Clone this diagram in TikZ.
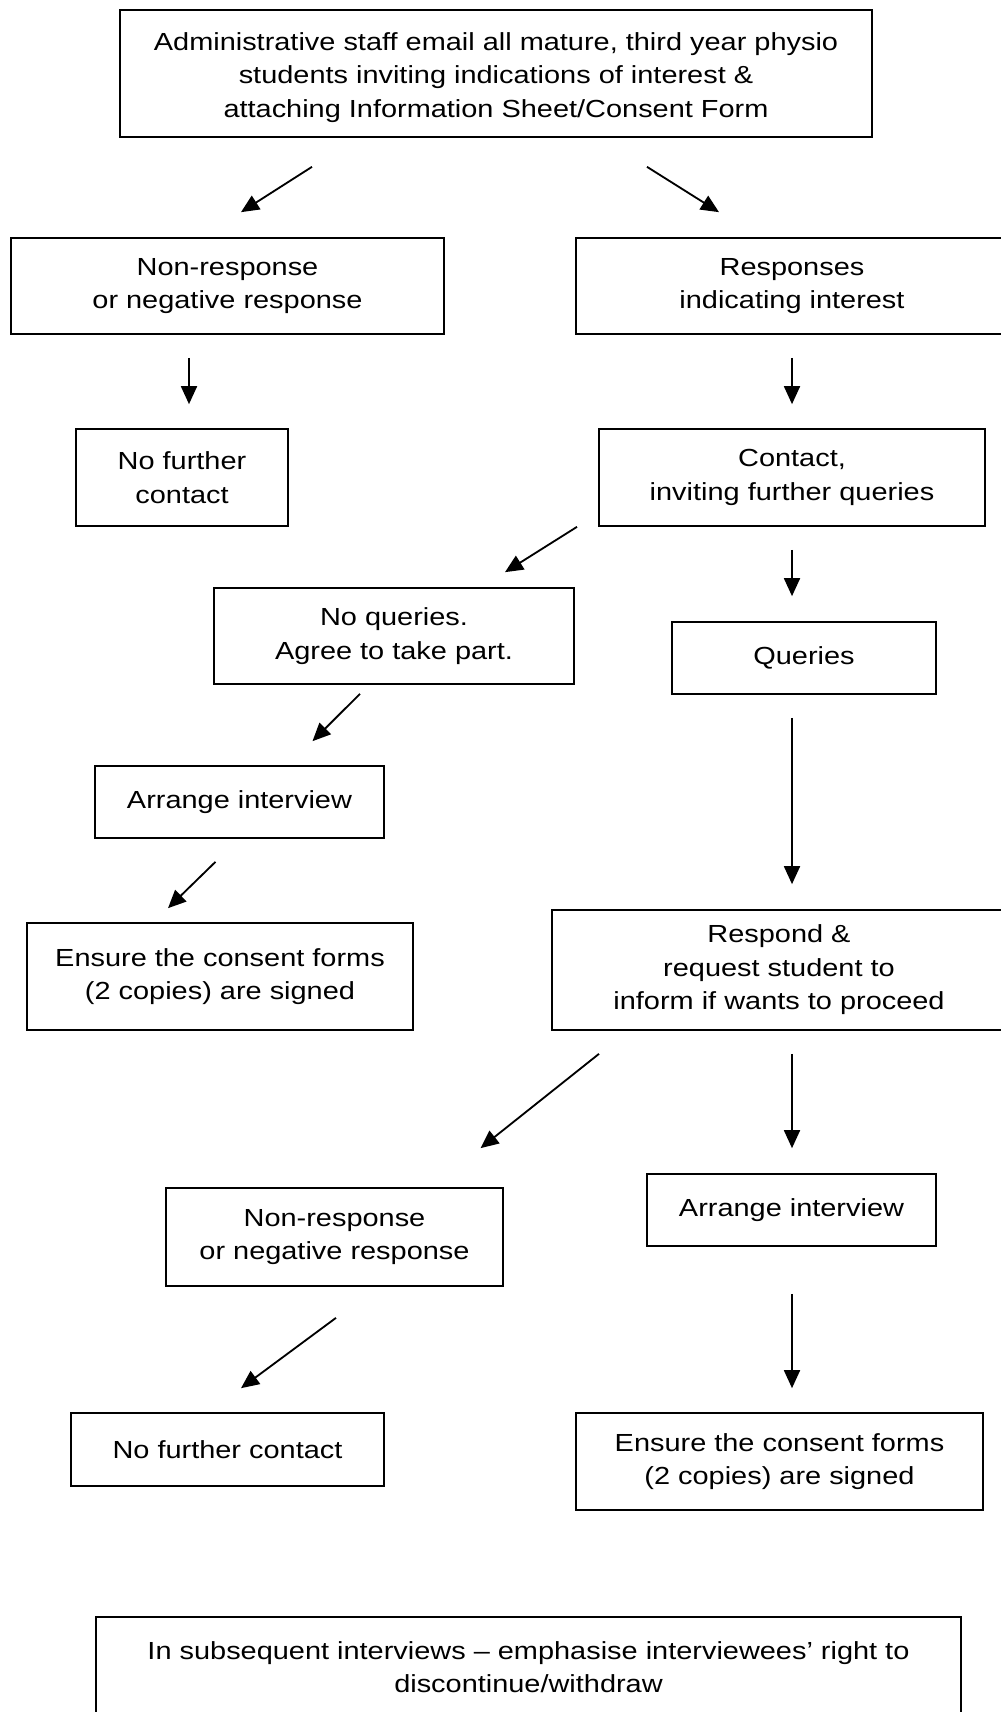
\documentclass[tikz,border=0pt]{standalone}
\usepackage{fontspec}
\setmainfont{Liberation Sans}[FakeStretch=1.17]
\usepackage{tikz}
\usetikzlibrary{arrows.meta,calc}

\begin{document}
\begin{tikzpicture}[x=0.3mm,y=-0.3mm,
  box/.style={draw,line width=0.5mm,rectangle,inner sep=0pt,align=center,
    font=\fontsize{21.1}{28.6}\selectfont},
  arr/.style={line width=0.55mm,-{Triangle[length=5.4mm,width=4.8mm]}}]
\fill[white] (0,0) rectangle (1000,1712);
\useasboundingbox (0,0) rectangle (1000,1712);
% boxes
\node[box,minimum width=225.6mm,minimum height=38.1mm] (top) at (496,73.5)
  {\rule{0pt}{22pt}Administrative staff email all mature, third year physio\\
   students inviting indications of interest \&\\
   attaching Information Sheet/Consent Form};
\node[box,minimum width=129.9mm,minimum height=28.8mm] (nrA) at (227.5,286)
  {Non-response\\ or negative response};
\node[box,minimum width=129.6mm,minimum height=28.8mm] (resp) at (792,286)
  {Responses\\ indicating interest};
\node[box,minimum width=63.6mm,minimum height=29.1mm] (nfA) at (182,477.5)
  {No further\\ contact};
\node[box,minimum width=115.8mm,minimum height=29.1mm] (contact) at (792,477.5)
  {Contact,\\ inviting further queries};
\node[box,minimum width=108mm,minimum height=28.8mm] (noq) at (394,636)
  {No queries.\\ Agree to take part.};
\node[box,minimum width=79.2mm,minimum height=21.6mm] (queries) at (804,658)
  {Queries};
\node[box,minimum width=86.7mm,minimum height=21.6mm] (arrA) at (239.5,802)
  {Arrange interview};
\node[box,minimum width=115.8mm,minimum height=32.1mm] (ensA) at (220,976.5)
  {Ensure the consent forms\\ (2 copies) are signed};
\node[box,minimum width=136.2mm,minimum height=36mm] (respond) at (779,970)
  {Respond \&\\ request student to\\ inform if wants to proceed};
\node[box,minimum width=101.1mm,minimum height=29.4mm] (nrB) at (334.5,1237)
  {Non-response\\ or negative response};
\node[box,minimum width=86.7mm,minimum height=21.6mm] (arrB) at (791.5,1210)
  {Arrange interview};
\node[box,minimum width=93.9mm,minimum height=21.9mm] (nfB) at (227.5,1449.5)
  {No further contact};
\node[box,minimum width=122.1mm,minimum height=29.1mm] (ensB) at (779.5,1461.5)
  {Ensure the consent forms\\ (2 copies) are signed};
\node[box,minimum width=259.5mm,minimum height=30mm] (final) at (528.5,1667)
  {In subsequent interviews – emphasise interviewees’ right to\\ discontinue/withdraw};
% arrows
\draw[arr] ($(top.south)+(-184,29)$) -- ($(nrA.north)+(13.5,-25)$);
\draw[arr] ($(top.south)+(151,29)$) -- ($(resp.north)+(-73,-25)$);
\draw[arr] ($(nrA.south)+(-38.5,23)$) -- ($(nfA.north)+(7,-24)$);
\draw[arr] ($(resp.south)+(0,23)$) -- ($(contact.north)+(0,-24)$);
\draw[arr] ($(contact.south)+(-215,0)$) -- ($(noq.north)+(111,-15)$);
\draw[arr] ($(contact.south)+(0,23)$) -- ($(queries.north)+(-12,-25)$);
\draw[arr] ($(noq.south)+(-34,9)$) -- ($(arrA.north)+(73,-24)$);
\draw[arr] ($(queries.south)+(-12,23)$) -- ($(respond.north)+(13,-25)$);
\draw[arr] ($(arrA.south)+(-24,23)$) -- ($(ensA.north)+(-52,-14)$);
\draw[arr] ($(respond.south)+(-180,23)$) -- ($(nrB.north)+(146,-39)$);
\draw[arr] ($(respond.south)+(13,23)$) -- ($(arrB.north)+(0.5,-25)$);
\draw[arr] ($(nrB.south)+(1.5,31)$) -- ($(nfB.north)+(13.5,-24)$);
\draw[arr] ($(arrB.south)+(0.5,47)$) -- ($(ensB.north)+(12.5,-24)$);
\end{tikzpicture}
\end{document}
